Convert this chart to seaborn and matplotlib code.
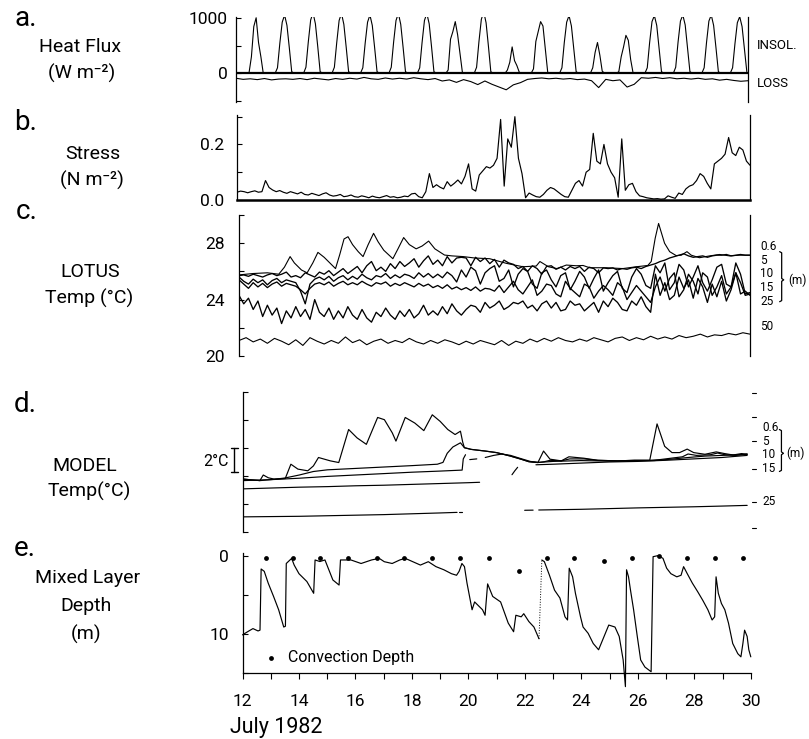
import numpy as np
import pandas as pd
import matplotlib
matplotlib.use("Agg")
import matplotlib.pyplot as plt
import seaborn as sns
from matplotlib import font_manager

# ---------------------------------------------------------------- data
# a. insolation, W m-2, two-hourly samples (01h, 03h, ... 23h) for 12-29 July
INSOLATION = [
    0, 0, 0, 0, 0, 10, 300, 850, 1010, 560, 300, 0,      # 12
    0, 0, 0, 0, 0, 100, 550, 930, 1060, 870, 460, 30,    # 13
    0, 0, 0, 0, 0, 110, 570, 970, 1100, 900, 480, 30,    # 14
    0, 0, 0, 0, 0, 110, 560, 960, 1090, 890, 470, 30,    # 15
    0, 0, 0, 0, 0, 100, 550, 930, 1060, 870, 460, 30,    # 16
    0, 0, 0, 0, 0, 110, 570, 960, 1090, 890, 470, 30,    # 17
    0, 0, 0, 0, 0, 100, 560, 960, 1090, 900, 480, 30,    # 18
    0, 0, 0, 0, 0, 60, 620, 760, 940, 700, 360, 20,      # 19
    0, 0, 0, 0, 0, 110, 580, 980, 1120, 920, 490, 30,    # 20
    0, 0, 0, 0, 0, 0, 60, 200, 480, 230, 140, 20,        # 21
    0, 0, 0, 0, 0, 80, 580, 760, 940, 860, 430, 20,      # 22
    0, 0, 0, 0, 0, 100, 560, 930, 1050, 860, 450, 30,    # 23
    0, 0, 0, 0, 0, 0, 100, 380, 560, 330, 40, 0,         # 24
    0, 0, 0, 0, 0, 30, 300, 480, 690, 600, 250, 10,      # 25
    0, 0, 0, 0, 0, 100, 560, 940, 1050, 870, 450, 30,    # 26
    0, 0, 0, 0, 0, 110, 570, 950, 1060, 880, 460, 30,    # 27
    0, 0, 0, 0, 0, 100, 560, 950, 1060, 870, 460, 30,    # 28
    0, 0, 0, 0, 0, 100, 540, 920, 1030, 850, 440, 30,    # 29
]
# a. net heat loss, W m-2, six-hourly
HEAT_LOSS = [
    -90, -110, -100, -115, -95, -120, -105, -100, -110, -95, -115, -90,
    -105, -120, -95, -110, -90, -105, -75, -100, -110, -85, -105, -90,
    -105, -80, -100, -115, -95, -140, -120, -165, -115, -150, -205, -140,
    -200, -250, -300, -210, -170, -110, -95, -85, -100, -90, -105, -95,
    -115, -105, -135, -260, -110, -135, -120, -250, -200, -80, -90, -75,
    -95, -80, -100, -90, -105, -90, -110, -100, -125, -110, -130, -145,
    -135,
]
# b. wind stress, N m-2, three-hourly
STRESS = [
    .028, .032, .030, .026, .030, .033, .028, .030,   # 12
    .070, .045, .036, .030, .034, .028, .024, .030,   # 13
    .026, .022, .028, .020, .018, .024, .020, .016,   # 14
    .022, .026, .018, .014, .016, .020, .012, .014,   # 15
    .018, .012, .010, .015, .012, .008, .014, .010,   # 16
    .008, .012, .016, .010, .012, .008, .010, .014,   # 17
    .012, .022, .024, .012, .008, .030, .095, .045,   # 18
    .055, .046, .040, .066, .050, .060, .072, .058,   # 19
    .085, .130, .040, .032, .090, .105, .120, .115,   # 20
    .125, .150, .290, .050, .220, .190, .300, .150,   # 21
    .095, .008, .025, .018, .012, .010, .020, .035,   # 22
    .045, .040, .030, .020, .012, .010, .035, .060,   # 23
    .070, .050, .100, .110, .240, .140, .130, .200,   # 24
    .130, .100, .080, .010, .220, .035, .055, .060,   # 25
    .030, .015, .012, .008, .006, .004, .005, .003,   # 26
    .004, .015, .010, .006, .025, .020, .040, .050,   # 27
    .055, .070, .095, .085, .060, .040, .130, .140,   # 28
    .150, .165, .225, .170, .160, .190, .180, .140,   # 29
    .125,
]
# c. LOTUS mooring temperatures, deg C
T06_DAY = [12.0, 12.5, 13.0, 13.4, 13.6, 13.8, 13.95, 14.2, 14.4, 14.6, 14.78, 15.0,
           15.2, 15.4, 15.55, 15.7, 15.84, 16.0, 16.2, 16.37, 16.55, 16.74, 16.9,
           17.1, 17.42, 17.6, 17.8, 18.0, 18.24, 18.45, 18.68, 18.9, 19.24, 19.5,
           19.9, 20.3, 20.83, 21.42, 22.0, 22.47, 22.6, 22.9, 23.2, 23.53, 23.88,
           24.12, 24.35, 24.94, 25.52, 26.0, 26.4, 26.52, 26.66, 26.78, 26.87,
           26.99, 27.17, 27.4, 27.58, 27.78, 27.93, 28.22, 28.58, 28.93, 29.28,
           29.63, 30.0]
T06_TEMP = [25.75, 25.85, 25.9, 25.8, 26.3, 27.05, 26.6, 26.1, 25.9, 26.6, 27.35, 27.0,
            26.6, 26.2, 27.2, 28.3, 28.46, 27.9, 27.4, 27.05, 27.9, 28.7, 28.1,
            27.5, 26.9, 27.6, 28.4, 27.9, 27.6, 27.8, 28.15, 27.6, 27.16, 27.1,
            27.05, 26.95, 26.9, 26.57, 26.33, 26.38, 26.7, 26.33, 26.2, 26.45, 26.4,
            26.42, 26.26, 26.26, 26.2, 26.33, 26.42, 26.7, 28.35, 29.4, 28.8,
            28.0, 27.4, 27.12, 27.15, 27.4, 27.15, 26.97, 27.1, 27.2, 27.1,
            27.15, 27.15]
# four-hourly records at 5, 10, 15 and 25 m
T05 = [
    25.70, 25.75, 25.65, 25.80, 25.70, 25.60, 25.75, 25.85, 25.70, 25.80, 25.95, 25.60,
    25.70, 25.55, 25.90, 25.75, 25.60, 25.95, 25.80, 26.05, 25.70, 25.95, 26.20, 25.85,
    26.10, 26.35, 25.90, 26.40, 26.70, 26.05, 26.30, 26.00, 26.55, 26.20, 26.70, 26.35,
    26.60, 26.90, 26.30, 26.75, 27.10, 26.50, 26.80, 26.40, 27.05, 26.60, 26.95, 27.00,
    26.95, 26.40, 27.00, 26.70, 26.95, 26.55, 26.85, 26.30, 26.80, 26.60, 26.50, 26.20,
    26.35, 26.00, 26.40, 26.20, 25.80, 26.35, 26.40, 26.15, 26.30, 26.10, 26.35, 26.20,
    26.35, 26.00, 26.30, 26.20, 25.90, 26.25, 26.20, 26.25, 26.10, 26.20, 26.15, 26.25,
    26.30, 26.20, 26.35, 26.45, 26.55, 26.70, 26.80, 26.95, 27.05, 27.15, 27.25, 27.10,
    27.00, 27.05, 27.10, 27.00, 27.10, 27.15, 27.15, 27.20, 27.10, 27.15, 27.20, 27.15,
    27.15,
]
T10 = [
    25.60, 25.30, 25.10, 25.45, 25.20, 25.40, 25.05, 25.35, 25.50, 25.20, 25.40, 25.30,
    25.20, 24.60, 23.70, 25.10, 25.45, 25.60, 25.40, 25.65, 25.30, 25.55, 25.70, 25.40,
    25.65, 25.45, 25.80, 25.55, 25.40, 25.70, 25.60, 25.85, 25.50, 25.75, 25.55, 25.80,
    25.70, 25.50, 25.90, 25.60, 25.85, 25.55, 25.80, 25.55, 25.95, 25.70, 25.25, 26.10,
    25.60, 26.30, 26.05, 25.10, 25.90, 26.20, 26.40, 25.30, 25.50, 26.10, 24.90, 25.80,
    26.20, 26.00, 25.10, 24.80, 25.90, 26.10, 25.40, 24.90, 25.70, 25.90, 24.70, 25.30,
    26.00, 25.60, 24.80, 25.50, 26.10, 24.60, 25.20, 25.70, 26.00, 24.80, 24.50, 25.60,
    26.20, 25.80, 25.00, 24.80, 26.40, 25.90, 26.60, 24.70, 25.20, 26.50, 26.10, 24.90,
    25.60, 26.40, 25.20, 24.60, 25.40, 26.30, 26.50, 25.10, 24.90, 26.60, 25.80, 24.40,
    24.50,
]
T15 = [
    25.40, 25.10, 24.80, 25.20, 24.90, 25.15, 24.85, 25.10, 25.25, 24.95, 25.15, 25.05,
    24.95, 24.70, 24.40, 24.80, 25.10, 25.20, 25.05, 25.25, 24.95, 25.15, 25.30, 25.05,
    25.20, 25.05, 25.30, 25.10, 24.95, 25.20, 25.10, 25.25, 24.95, 25.15, 25.00, 25.20,
    25.05, 24.90, 25.15, 24.95, 25.10, 24.85, 25.00, 24.80, 25.05, 24.75, 24.90, 24.70,
    24.85, 24.65, 24.90, 24.60, 24.80, 24.75, 24.60, 25.00, 24.50, 24.90, 25.30, 24.70,
    24.40, 24.90, 25.40, 24.30, 24.60, 25.10, 25.00, 24.40, 24.20, 25.30, 24.80, 24.50,
    24.20, 25.10, 24.90, 24.10, 24.60, 25.00, 24.70, 24.30, 25.20, 24.90, 24.00, 24.50,
    25.00, 24.60, 24.20, 23.80, 24.90, 25.60, 24.60, 25.50, 25.90, 24.20, 24.70, 25.80,
    25.30, 24.40, 25.90, 25.60, 24.30, 24.90, 25.70, 24.40, 24.90, 25.90, 25.20, 24.30,
    24.40,
]
T25 = [
    24.30, 23.70, 24.10, 23.30, 23.90, 22.80, 23.60, 22.90, 23.40, 22.30, 23.20, 22.70,
    23.50, 22.80, 23.30, 22.60, 24.00, 23.10, 22.80, 23.40, 22.60, 23.20, 22.70, 23.50,
    22.90, 22.60, 23.30, 22.70, 22.40, 23.10, 22.80, 23.40, 22.90, 22.60, 23.20, 22.80,
    23.30, 22.70, 23.00, 23.60, 22.90, 23.20, 22.90, 23.50, 23.00, 23.70, 23.20, 22.90,
    23.30, 23.60, 23.50, 23.10, 23.80, 23.40, 23.60, 23.90, 23.30, 23.50, 23.80, 23.70,
    23.90, 23.40, 23.60, 23.20, 23.70, 23.90, 23.40, 23.80, 23.20, 23.30, 23.90, 23.60,
    23.70, 23.20, 23.50, 23.80, 23.10, 23.90, 23.50, 24.10, 23.80, 23.30, 23.20, 23.90,
    23.60, 24.20, 23.50, 23.10, 25.80, 24.30, 25.20, 24.00, 24.30, 25.60, 24.80, 25.40,
    24.10, 25.50, 24.90, 23.80, 25.10, 24.20, 25.30, 23.90, 24.70, 25.90, 24.40, 24.60,
    24.30,
]
# six-hourly record at 50 m
T50 = [
    21.10, 21.30, 21.00, 21.20, 20.90, 21.25, 21.05, 20.80, 21.15, 20.75, 21.30, 21.05,
    20.85, 21.10, 20.90, 21.35, 20.95, 21.15, 20.80, 21.05, 21.20, 20.90, 21.10, 20.95,
    21.25, 21.00, 20.85, 21.10, 20.90, 21.15, 21.00, 20.80, 21.05, 20.85, 21.10, 20.95,
    20.80, 21.10, 20.75, 21.05, 20.90, 21.20, 21.00, 21.25, 21.05, 21.30, 21.10, 21.00,
    21.20, 21.05, 21.30, 21.15, 21.00, 21.25, 21.35, 21.10, 21.30, 21.15, 21.40, 21.20,
    21.35, 21.20, 21.45, 21.30, 21.40, 21.55, 21.35, 21.50, 21.45, 21.60, 21.50, 21.65,
    21.55,
]
# d. model temperatures (deg C, plotted on a 2 deg C scale); nan marks a break
NAN = float("nan")
M06_DAY = [12.0, 12.3, 12.6, 12.72, 12.9, 13.1, 13.5, 13.7, 13.95, 14.3, 14.5, 14.68, 15.1,
           15.4, 15.75, 16.05, 16.38, 16.78, 17.02, 17.3, 17.43, 17.76, 18.1, 18.42,
           18.72, 19.0, 19.27, 19.53, 19.72, 19.8, 19.86, 20.1, 20.6, 21.0, 21.48,
           21.87, 22.15, 22.47, 22.67, 22.9, 23.3, 23.57, 24.1, 24.6, 25.3, 25.9,
           26.44, 26.7, 26.97, 27.23, 27.5, 27.77, 28.0, 28.4, 28.8, 29.1, 29.4,
           29.7, 29.9]
M06_TEMP = [23.76, 23.7, 23.65, 24.05, 23.85, 23.76, 23.8, 24.82, 24.47, 24.35, 24.7, 25.3,
            25.06, 24.94, 27.3, 26.7, 26.24, 28.16, 28.0, 27.06, 26.47, 28.16, 27.76,
            27.22, 28.35, 27.88, 27.3, 26.94, 27.18, 26.4, 26.0, 25.88, 25.76, 25.65,
            25.41, 25.18, 25.0, 24.94, 25.76, 25.18, 25.06, 25.35, 25.25, 25.1, 25.06,
            25.1, 25.1, 27.7, 26.1, 25.65, 25.65, 25.9, 25.65, 25.53, 25.7, 25.58,
            25.48, 25.58, 25.53]
M05_DAY = [12.0, 12.6, 13.1, 13.5, 14.0, 14.5, 15.0, 16.0, 17.0, 18.0, 18.9, 19.1, 19.25,
           19.45, 19.72, 19.86, 20.1, 20.6, 21.0, 21.48, 21.87, 22.15, 22.47, 22.7,
           22.9, 23.3, 23.6, 24.1, 24.6, 25.3, 25.9, 26.44, 26.8, 27.2, 27.6, 27.8,
           28.1, 28.6, 28.85, 29.1, 29.5, 29.9]
M05_TEMP = [23.76, 23.65, 23.74, 23.84, 24.05, 24.3, 24.42, 24.52, 24.62, 24.72, 24.82,
            24.95, 25.6, 26.05, 26.35, 26.0, 25.88, 25.76, 25.65, 25.41, 25.18, 25.0,
            24.94, 25.0, 25.1, 25.06, 25.2, 25.2, 25.1, 25.06, 25.1, 25.1, 25.15,
            25.25, 25.35, 25.55, 25.45, 25.5, 25.62, 25.5, 25.45, 25.53]
M10_DAY = [12.0, 13.0, 14.0, 15.0, 16.0, 17.0, 18.0, 19.0, 19.78, 19.82, 19.9, NAN,
           20.05, 20.3, NAN, 20.6, 20.9, 21.2, 21.5, 21.9, 22.2, 22.5, 23.0, 24.0,
           25.0, 26.0, 26.6, 27.2, 27.8, 28.4, 29.0, 29.6, 29.9]
M10_TEMP = [23.65, 23.72, 23.82, 23.95, 24.05, 24.15, 24.25, 24.33, 24.4, 25.2, 25.5, NAN,
            25.15, 25.2, NAN, 25.3, 25.45, 25.55, 25.45, 25.2, 25.02, 24.95, 25.02,
            25.08, 25.04, 25.06, 25.08, 25.18, 25.3, 25.4, 25.45, 25.5, 25.55]
M15_DAY = [12.0, 13.0, 14.0, 15.0, 16.0, 17.0, 18.0, 19.0, 20.0, 20.4, NAN, 21.55, 21.65,
           21.75, NAN, 22.4, 23.0, 24.0, 25.0, 26.0, 27.0, 28.0, 29.0, 29.9]
M15_TEMP = [23.06, 23.12, 23.18, 23.22, 23.28, 23.32, 23.38, 23.44, 23.5, 23.53, NAN, 24.07,
            24.35, 24.6, NAN, 24.78, 24.82, 24.9, 24.98, 25.02, 25.1, 25.2, 25.3, 25.45]
M25_DAY = [12.0, 13.0, 14.0, 15.0, 16.0, 17.0, 18.0, 19.0, 19.6, NAN, 19.66, 19.76, NAN,
           22.0, 22.3, NAN, 22.5, 24.0, 25.0, 26.0, 27.0, 28.0, 29.0, 29.9]
M25_TEMP = [21.06, 21.08, 21.1, 21.14, 21.18, 21.22, 21.28, 21.34, 21.38, NAN, 21.4, 21.4, NAN,
            21.53, 21.54, NAN, 21.55, 21.6, 21.65, 21.7, 21.74, 21.78, 21.83, 21.88]
# e. model mixed layer depth, m
MLD_DAY = [12.0, 12.18, 12.37, 12.55, 12.62, 12.66, 12.77, 12.91, 13.1, 13.28, 13.46,
           13.52, 13.55, 13.74, 13.83, 14.0, 14.28, 14.52, 14.57, 14.74, 14.92, 15.2,
           15.42, 15.47, 15.84, 16.2, 16.57, 16.84, 17.02, 17.3, 17.57, 17.76, 18.03,
           18.3, 18.58, 18.85, 19.13, 19.4, 19.58, 19.67, 19.77, 19.86, 19.95, 20.04,
           20.13, 20.22, 20.5, 20.59, 20.68, 20.86, 21.14, 21.41, 21.6, 21.68, 21.87,
           21.96, 22.14, 22.32, 22.5, NAN,
           22.6, 22.69, 22.87, 23.05, 23.24, 23.42, 23.51, 23.57, 23.69, 23.79, 23.97,
           24.06, 24.24, 24.42, 24.61, 24.97, 25.19, 25.34, 25.48, 25.56, 25.6, 25.67,
           25.74, 25.85, 25.98, 26.1, 26.25, 26.47, 26.54, 26.71, 26.89, 27.02, 27.17,
           27.38, 27.53, 27.62, 27.75, 27.93, 28.12, 28.3, 28.48, 28.63, 28.72, 28.77,
           28.85, 28.96, 29.08, 29.21, 29.36, 29.54, 29.65, 29.72, 29.78, 29.87, 29.93,
           30.0]
MLD_DEPTH = [10.1, 9.7, 9.3, 9.6, 9.5, 1.7, 2.0, 3.5, 5.2, 6.9, 9.1,
             9.0, 1.0, 0.35, 1.2, 2.3, 3.3, 4.8, 0.55, 0.75, 0.55, 3.1,
             3.75, 0.55, 0.55, 1.0, 0.55, 0.34, 0.77, 1.0, 0.55, 0.34, 0.77,
             1.2, 0.77, 1.4, 1.8, 2.3, 2.5, 2.0, 1.0, 1.4, 3.5, 5.2,
             6.9, 5.9, 6.9, 7.6, 3.6, 5.2, 5.9, 8.6, 9.7, 7.6, 7.8,
             7.4, 8.4, 9.1, 10.6, NAN,
             0.55, 0.77, 2.5, 4.4, 5.4, 7.8, 8.2, 1.6, 2.7, 4.8, 7.8,
             9.1, 9.9, 11.2, 12.0, 8.85, 9.1, 10.3, 13.3, 16.7, 1.8, 2.7,
             4.4, 6.9, 10.3, 13.3, 14.2, 14.8, 0.13, 0.0, 0.34, 1.6, 2.3,
             2.7, 2.5, 1.4, 2.3, 3.5, 4.6, 5.7, 6.9, 8.2, 7.8, 2.7,
             4.8, 6.1, 6.9, 8.6, 11.2, 12.5, 12.9, 11.2, 9.5, 10.3, 12.0,
             12.9]
CONV_DAY = [12.82, 13.79, 14.74, 15.74, 16.75, 17.72, 18.72, 19.71, 20.74, 21.78,
            22.79, 23.75, 24.79, 25.79, 26.76, 27.75, 28.74, 29.72]
CONV_DEPTH = [0.26, 0.26, 0.26, 0.26, 0.26, 0.26, 0.26, 0.26, 0.26, 1.9,
              0.26, 0.26, 0.65, 0.26, 0.0, 0.26, 0.26, 0.26]

DEPTH_LABELS_C = ["0.6", "5", "10", "15", "25", "50"]
DEPTH_LABEL_Y_C = [27.78, 26.8, 25.82, 24.84, 23.86, 22.1]
DEPTH_LABELS_D = ["0.6", "5", "10", "15", "25"]
DEPTH_LABEL_Y_D = [27.45, 26.47, 25.49, 24.51, 22.14]
DAY_TICKS = list(range(12, 31))
DAY_LABELS = [str(d) if d % 2 == 0 else "" for d in DAY_TICKS]

# ---------------------------------------------------------------- style
sns.set_theme(style="white")
_names = {f.name for f in font_manager.fontManager.ttflist}
BASE = "Liberation Sans Narrow" if "Liberation Sans Narrow" in _names else "Roboto"
plt.rcParams["font.family"] = [BASE, "DejaVu Sans"]
plt.rcParams["axes.linewidth"] = 0.9
plt.rcParams["axes.edgecolor"] = "black"
plt.rcParams["text.color"] = "black"
plt.rcParams["xtick.color"] = "black"
plt.rcParams["ytick.color"] = "black"

W, H = 809, 739
fig = plt.figure(figsize=(W / 100, H / 100), dpi=100)
fig.patch.set_facecolor("white")


def box(x0, y0, x1, y1):
    return [x0 / W, 1 - y1 / H, (x1 - x0) / W, (y1 - y0) / H]


def ftext(x, y, s, size=14, ha="center", **kw):
    fig.text(x / W, 1 - y / H, s, fontsize=size, ha=ha, va="center", **kw)


def series(ax, x, y, lw=0.85, **kw):
    x = np.asarray(x, float)
    y = np.asarray(y, float)
    ok = ~np.isnan(y)
    seg = np.cumsum(~ok)
    df = pd.DataFrame({"x": x[ok], "y": y[ok], "seg": seg[ok]})
    sns.lineplot(data=df, x="x", y="y", units="seg", estimator=None, sort=False,
                 color="black", linewidth=lw, ax=ax, legend=False, **kw)


def style_axis(ax, ylim, yticks, ylabels, pad, left=True, right=False, bottom=False):
    ax.set_xlim(12, 30)
    ax.set_ylim(*ylim)
    ax.set_facecolor("white")
    ax.grid(False)
    for side, vis in (("left", left), ("right", right), ("bottom", bottom), ("top", False)):
        ax.spines[side].set_visible(vis)
        ax.spines[side].set_color("black")
    ax.set_yticks(yticks)
    ax.set_yticklabels(ylabels)
    ax.tick_params(axis="y", direction="in", length=3.5, width=0.8, pad=pad,
                   labelsize=12.5, left=True, right=False)
    ax.set_xticks([])
    ax.set_xlabel("")
    ax.set_ylabel("")


def brace(ax, x, top, mid, bottom, tr):
    # thin right-facing curly bracket spanning top..bottom (data units)
    d = 0.004
    ax.plot([x, x + d, x + d, x + 2 * d, x + d, x + d, x],
            [top, top - 0.08, mid + 0.1, mid, mid - 0.1, bottom + 0.08, bottom],
            transform=tr, color="black", lw=0.9, clip_on=False)


# ---------------------------------------------------------------- a. heat flux
axa = fig.add_axes(box(236, 17, 748, 102))
t_ins = 12 + (2 * np.arange(len(INSOLATION)) + 1) / 24
t_loss = 12 + np.arange(len(HEAT_LOSS)) / 4
series(axa, t_ins, INSOLATION, lw=0.8)
series(axa, t_loss, HEAT_LOSS, lw=0.8)
axa.axhline(0, color="black", lw=1.6)
style_axis(axa, (-522, 1024), [-500, 0, 500, 1000], ["", "0", "", "1000"], 6, right=True)
axa.text(1.017, 0.66, "INSOL.", transform=axa.transAxes, fontsize=9.5, va="center")
axa.text(1.017, 0.22, "LOSS", transform=axa.transAxes, fontsize=9.5, va="center")

# ---------------------------------------------------------------- b. stress
axb = fig.add_axes(box(237, 115, 750, 200))
t_str = 12 + np.arange(len(STRESS)) / 8
series(axb, t_str, STRESS, lw=0.85)
style_axis(axb, (0, 0.306), [0, 0.1, 0.2, 0.3], ["0.0", "", "0.2", ""], 9,
           right=True, bottom=True)
axb.spines["bottom"].set_linewidth(1.8)

# ---------------------------------------------------------------- c. LOTUS
axc = fig.add_axes(box(239, 215, 750, 356))
t4 = 12 + np.arange(len(T05)) / 6
t6 = 12 + np.arange(len(T50)) / 4
series(axc, T06_DAY, T06_TEMP, lw=0.8)
for arr in (T05, T10, T15, T25):
    series(axc, t4, arr, lw=0.95)
series(axc, t6, T50, lw=0.8)
style_axis(axc, (20, 30), [20, 22, 24, 26, 28, 30], ["20", "", "24", "", "28", ""], 10,
           right=True)
tr_c = axc.get_yaxis_transform()
for lab, yv in zip(DEPTH_LABELS_C, DEPTH_LABEL_Y_C):
    axc.text(1.02, yv, lab, transform=tr_c, fontsize=8.5, va="center", ha="left")
brace(axc, 1.058, 27.4, 25.4, 23.85, tr_c)
axc.text(1.074, 25.4, "(m)", transform=tr_c, fontsize=8.5, va="center", ha="left")

# ---------------------------------------------------------------- d. model
axd = fig.add_axes(box(243, 391.7, 750, 531.7))
for xs, ys in ((M06_DAY, M06_TEMP), (M05_DAY, M05_TEMP), (M10_DAY, M10_TEMP),
               (M15_DAY, M15_TEMP), (M25_DAY, M25_TEMP)):
    series(axd, xs, ys, lw=0.85)
style_axis(axd, (20, 30), [20, 22, 24, 26, 28, 30], [""] * 6, 4)
tr_d = axd.get_yaxis_transform()
for lab, yv in zip(DEPTH_LABELS_D, DEPTH_LABEL_Y_D):
    axd.text(1.024, yv, lab, transform=tr_d, fontsize=8.5, va="center", ha="left")
for yv in (29.9, 28.2, 26.47, 24.51, 22.14, 20.3):
    axd.plot([1.004, 1.012], [yv, yv], transform=tr_d, color="black", lw=0.8,
             clip_on=False)
brace(axd, 1.058, 27.3, 25.6, 24.3, tr_d)
axd.text(1.072, 25.6, "(m)", transform=tr_d, fontsize=8.5, va="center", ha="left")
# 2 deg C scale bar
axd.plot([-0.017, -0.017], [24.3, 26.0], transform=tr_d, color="black", lw=1.0,
         clip_on=False)
for yv in (24.3, 26.0):
    axd.plot([-0.024, -0.010], [yv, yv], transform=tr_d, color="black", lw=1.0,
             clip_on=False)
ftext(216, 461, "2°C", size=11.5)

# ---------------------------------------------------------------- e. mixed layer
axe = fig.add_axes(box(242.5, 553.3, 750.8, 673.3))
series(axe, MLD_DAY, MLD_DEPTH, lw=0.85, clip_on=False)
gap = int(np.where(np.isnan(np.asarray(MLD_DEPTH, float)))[0][0])
series(axe, [MLD_DAY[gap - 1], MLD_DAY[gap + 1]], [MLD_DEPTH[gap - 1], MLD_DEPTH[gap + 1]],
       lw=0.7, linestyle=":")
sns.scatterplot(x=CONV_DAY, y=CONV_DEPTH, ax=axe, color="black", s=12,
                edgecolor="black", linewidth=0, label="Convection Depth")
style_axis(axe, (15, -0.3), [0, 5, 10, 15], ["0", "", "10", ""], 10, bottom=True)
axe.set_xticks(DAY_TICKS)
axe.set_xticklabels(DAY_LABELS)
axe.tick_params(axis="x", direction="out", length=4, width=0.8, pad=11,
                labelsize=12.5, bottom=True)
axe.legend(loc="center left", bbox_to_anchor=(0.012, 0.13), frameon=False,
           handletextpad=0.05, fontsize=11.5, markerscale=1.0, borderaxespad=0)
axe.set_xlabel("")
axe.set_ylabel("")

# ---------------------------------------------------------------- panel titles
ftext(14, 19, "a.", size=20, ha="left")
ftext(80, 47, "Heat Flux")
ftext(82, 73, "(W m⁻²)")
ftext(14, 123, "b.", size=20, ha="left")
ftext(93, 154, "Stress")
ftext(92, 180, "(N m⁻²)")
ftext(16, 212, "c.", size=20, ha="left")
ftext(90, 272, "LOTUS")
ftext(89, 298, "Temp (°C)")
ftext(14, 405, "d.", size=20, ha="left")
ftext(85, 466, "MODEL")
ftext(89, 491, "Temp(°C)")
ftext(14, 548, "e.", size=20, ha="left")
ftext(88, 578, "Mixed Layer")
ftext(86, 606, "Depth")
ftext(86, 634, "(m)")
ftext(276, 728, "July 1982", size=15.5)

fig.savefig("out.png", dpi=100, facecolor="white")
